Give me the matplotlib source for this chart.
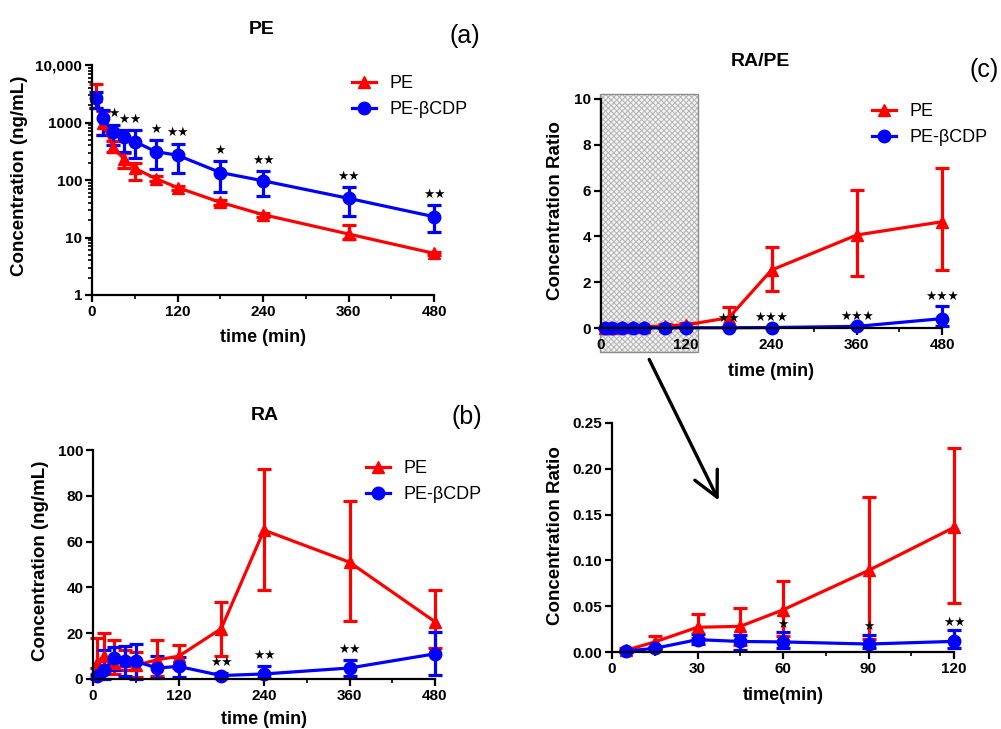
import numpy as np
import matplotlib
matplotlib.use('Agg')
import matplotlib.pyplot as plt
from matplotlib.patches import Rectangle, FancyArrowPatch
from matplotlib.lines import Line2D
from matplotlib.ticker import FixedLocator, NullFormatter

plt.rcParams['font.family'] = ['Liberation Sans', 'DejaVu Sans']
plt.rcParams['hatch.linewidth'] = 0.7

# sampling times (min)
t = np.array([5, 15, 30, 45, 60, 90, 120, 180, 240, 360, 480])

# (a) PE plasma concentration (ng/mL): mean, upper and lower error bounds
pe_a = [2900, 1000, 370, 230, 160, 105, 74, 41, 25, 11.5, 5.3]
pe_a_hi = [4700, 1600, 470, 300, 200, 118, 80, 45, 27, 16.6, 5.6]
pe_a_lo = [1800, 600, 310, 160, 100, 95, 68, 37, 23, 9.5, 5.0]
cd_a = [2630, 1180, 690, 570, 465, 310, 270, 135, 97, 48, 23]
cd_a_hi = [3450, 1650, 920, 740, 740, 500, 430, 210, 143, 76, 37]
cd_a_lo = [1770, 600, 410, 310, 240, 157, 133, 63, 53, 24, 12.5]
stars_a = [0, 0, 1, 1, 1, 1, 2, 1, 2, 2, 2]

# (b) RA plasma concentration (ng/mL)
pe_b = [7, 10, 7, 8, 6, 8.4, 9.9, 22, 65, 51, 25]
pe_b_hi = [17.9, 20, 17, 12.8, 11.8, 17, 15, 33.6, 91.7, 77.9, 38.9]
pe_b_lo = [2, 3, 2, 4, 1, 1.5, 5, 10.2, 38.9, 25.4, 13.5]
cd_b = [1.2, 4, 9, 8, 7.7, 4.8, 5.5, 1.5, 2.2, 4.8, 11]
cd_b_hi = [5, 12.8, 14, 14.5, 15.3, 10.2, 9.4, 2.6, 5.5, 8.4, 20.5]
cd_b_lo = [0, 0, 4, 1.5, 0, 0.4, 0.7, 0.5, 0.5, 1.4, 1.9]
stars_b = [0, 0, 0, 0, 0, 0, 0, 2, 2, 2, 0]

# (c) RA/PE concentration ratio
pe_c = [0.002, 0.011, 0.027, 0.028, 0.046, 0.089, 0.136, 0.45, 2.53, 4.06, 4.64]
pe_c_hi = [0.004, 0.018, 0.042, 0.048, 0.077, 0.169, 0.223, 0.92, 3.52, 6.03, 6.98]
pe_c_lo = [0.0, 0.004, 0.015, 0.008, 0.017, 0.014, 0.053, 0.1, 1.62, 2.28, 2.53]
cd_c = [0.001, 0.004, 0.0135, 0.0115, 0.011, 0.0087, 0.0116, 0.01, 0.02, 0.07, 0.41]
cd_c_hi = [0.002, 0.006, 0.0197, 0.019, 0.022, 0.019, 0.0236, 0.03, 0.05, 0.12, 0.96]
cd_c_lo = [0.0, 0.002, 0.0087, 0.002, 0.004, 0.004, 0.004, 0.0, 0.0, 0.03, 0.1]
stars_c = [0, 0, 0, 0, 0, 0, 0, 2, 3, 3, 3]
stars_d = [0, 0, 0, 0, 1, 1, 2]

RED = '#ff0000'
BLUE = '#0000ff'
W, H = 1001, 729

fig = plt.figure(figsize=(W / 100, H / 100), dpi=100)


def px_axes(x0, x1, y0, y1):
    # axes box from pixel edges (top-left origin)
    return fig.add_axes([x0 / W, 1 - y1 / H, (x1 - x0) / W, (y1 - y0) / H])


def ftext(x, y, s, **kw):
    fig.text(x / W, 1 - y / H, s, **kw)


def style(ax):
    for s in ['top', 'right']:
        ax.spines[s].set_visible(False)
    for s in ['left', 'bottom']:
        ax.spines[s].set_linewidth(1.6)
    ax.tick_params(which='major', length=5, width=1.6, labelsize=11, pad=2)
    ax.tick_params(which='minor', length=3, width=1.2)
    for lab in ax.get_xticklabels() + ax.get_yticklabels():
        lab.set_fontweight('bold')


def series(ax, x, y, hi, lo, color, marker, n=None):
    x = np.asarray(x)[:n]
    y = np.asarray(y)[:n]
    hi = np.asarray(hi)[:n]
    lo = np.asarray(lo)[:n]
    err = [y - lo, hi - y]
    ax.errorbar(x, y, yerr=err, color=color, lw=2.3, marker=marker, ms=9,
                capsize=5, capthick=2.3, elinewidth=2.3, clip_on=False)


def stars(ax, x, top, counts, off=3):
    for xi, yi, n in zip(x, top, counts):
        if n:
            ax.annotate('★' * n, (xi, yi), xytext=(0, off), textcoords='offset points',
                        ha='center', va='bottom', fontsize=9, family=['DejaVu Sans'])


def legend(ax, x, y):
    handles = [Line2D([], [], color=RED, lw=2.3, marker='^', ms=9),
               Line2D([], [], color=BLUE, lw=2.3, marker='o', ms=9)]
    ax.legend(handles, ['PE', 'PE-βCDP'], loc='upper left', bbox_to_anchor=(x / W, 1 - y / H),
              bbox_transform=fig.transFigure, frameon=False, fontsize=13,
              handlelength=1.35, handletextpad=0.75, labelspacing=0.5, borderpad=0,
              borderaxespad=0)


# ---- (a) PE ----
ax = px_axes(92, 434, 65, 295)
series(ax, t, pe_a, pe_a_hi, pe_a_lo, RED, '^')
series(ax, t, cd_a, cd_a_hi, cd_a_lo, BLUE, 'o')
ax.set_yscale('log')
ax.set_ylim(1, 10000)
ax.set_xlim(0, 480)
ax.set_yticks([1, 10, 100, 1000, 10000], ['1', '10', '100', '1000', '10,000'])
ax.yaxis.set_minor_locator(FixedLocator([m * 10 ** e for e in range(4) for m in range(2, 10)]))
ax.yaxis.set_minor_formatter(NullFormatter())
ax.set_xticks([0, 120, 240, 360, 480])
ax.set_xticks([60, 180, 300, 420], minor=True)
style(ax)
stars(ax, t, cd_a_hi, stars_a)
legend(ax, 352, 75)
ftext(262, 30, 'PE', ha='center', va='center', fontsize=14, fontweight='bold')
ftext(465, 36, '(a)', ha='center', va='center', fontsize=18)
ftext(20, 176, 'Concentration (ng/mL)', rotation=90, ha='center', va='center',
      fontsize=13.5, fontweight='bold')
ftext(263, 337, 'time (min)', ha='center', va='center', fontsize=13, fontweight='bold')

# ---- (b) RA ----
ax = px_axes(93, 435, 450, 679)
series(ax, t, pe_b, pe_b_hi, pe_b_lo, RED, '^')
series(ax, t, cd_b, cd_b_hi, cd_b_lo, BLUE, 'o')
ax.set_ylim(0, 100)
ax.set_xlim(0, 480)
ax.set_yticks([0, 20, 40, 60, 80, 100])
ax.set_xticks([0, 120, 240, 360, 480])
ax.set_xticks([60, 180, 300, 420], minor=True)
style(ax)
stars(ax, t, cd_b_hi, stars_b)
legend(ax, 366, 460)
ftext(265, 415, 'RA', ha='center', va='center', fontsize=14, fontweight='bold')
ftext(467, 417, '(b)', ha='center', va='center', fontsize=18)
ftext(41, 561, 'Concentration (ng/mL)', rotation=90, ha='center', va='center',
      fontsize=13.5, fontweight='bold')
ftext(264, 720, 'time (min)', ha='center', va='center', fontsize=13, fontweight='bold')

# ---- (c) RA/PE ----
ax = px_axes(601, 942, 99, 328)
ax.add_patch(Rectangle((-1, -1.06), 138, 11.3, facecolor='#f2f2f2', edgecolor='#b4b4b4',
                       hatch='xxxxxx', lw=0, clip_on=False, zorder=1))
ax.add_patch(Rectangle((-1, -1.06), 138, 11.3, facecolor='none', edgecolor='#8c8c8c',
                       lw=1, clip_on=False, zorder=1))
series(ax, t, pe_c, pe_c_hi, pe_c_lo, RED, '^')
series(ax, t, cd_c, cd_c_hi, cd_c_lo, BLUE, 'o')
ax.set_ylim(0, 10)
ax.set_xlim(0, 480)
ax.set_yticks([0, 2, 4, 6, 8, 10])
ax.set_xticks([0, 120, 240, 360, 480])
ax.set_xticks([60, 180, 300, 420], minor=True)
style(ax)
stars(ax, t[7:], cd_c_hi[7:], stars_c[7:], off=2)
legend(ax, 872, 103)
ftext(760, 62, 'RA/PE', ha='center', va='center', fontsize=14, fontweight='bold')
ftext(984, 70, '(c)', ha='center', va='center', fontsize=18)
ftext(555, 211, 'Concentration Ratio', rotation=90, ha='center', va='center',
      fontsize=13.5, fontweight='bold')
ftext(771, 371, 'time (min)', ha='center', va='center', fontsize=13, fontweight='bold')

# ---- (d) zoom of 0-120 min ratio ----
ax = px_axes(612, 954, 423, 652)
series(ax, t, pe_c, pe_c_hi, pe_c_lo, RED, '^', n=7)
series(ax, t, cd_c, cd_c_hi, cd_c_lo, BLUE, 'o', n=7)
ax.set_ylim(0, 0.25)
ax.set_xlim(0, 120)
ax.set_yticks([0, 0.05, 0.10, 0.15, 0.20, 0.25],
              ['0.00', '0.05', '0.10', '0.15', '0.20', '0.25'])
ax.set_xticks([0, 30, 60, 90, 120])
ax.set_xticks([15, 45, 75, 105], minor=True)
style(ax)
stars(ax, t[:7], cd_c_hi[:7], stars_d, off=1)
ftext(555, 536, 'Concentration Ratio', rotation=90, ha='center', va='center',
      fontsize=13.5, fontweight='bold')
ftext(783, 695, 'time(min)', ha='center', va='center', fontsize=13, fontweight='bold')

# arrow linking the shaded region to the zoomed panel
arr = FancyArrowPatch((648 / W, 1 - 357 / H), (720 / W, 1 - 503 / H),
                      transform=fig.transFigure, arrowstyle='->,head_length=0.9,head_width=0.45',
                      mutation_scale=20, lw=2.4, color='black')
fig.add_artist(arr)

fig.savefig('out.png', dpi=100)
